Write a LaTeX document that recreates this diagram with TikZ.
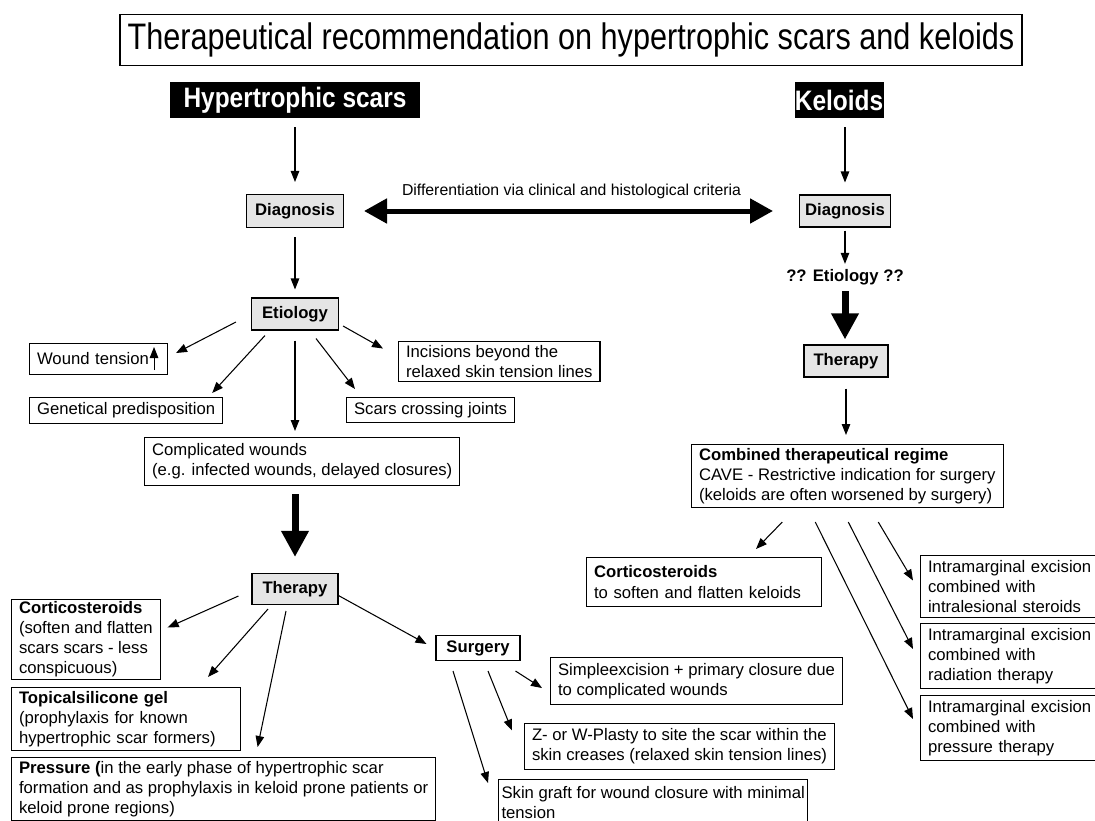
\documentclass[tikz,border=0pt]{standalone}
\usepackage{graphicx}
\usepackage{fontspec}
\setmainfont{Liberation Sans}
\usetikzlibrary{arrows.meta,calc}

\begin{document}
\begin{tikzpicture}[x=0.02cm, y=-0.02cm,
	box/.style={draw, line width=0.6pt, inner xsep=0.15cm, inner ysep=0.04cm, align=left, anchor=north west, font=\boxfont},
	grey/.style={draw, line width=0.6pt, fill=black!10, inner sep=0pt, font=\boxfont\bfseries},
	hdr/.style={fill=black, text=white, inner sep=0pt, minimum height=0.72cm, font=\fontsize{16}{18}\selectfont\bfseries},
	arr/.style={line width=0.6pt, -{Triangle[length=0.22cm,width=0.17cm]}},
	fat/.style={line width=0.14cm, -{Triangle[length=0.52cm,width=0.52cm]}},
	]
	
	\def\boxfont{\fontsize{9.5}{11.4}\selectfont}
	\useasboundingbox (0,0) rectangle (1095,821);
	
	% Titel und Spalten
	\node[draw, line width=0.8pt, minimum width=18.04cm, minimum height=1.02cm, font=\fontsize{21}{25}\selectfont] (title) at (571,40) {\scalebox{0.83}[1]{Therapeutical recommendation on hypertrophic scars and keloids}};
	\node[hdr, minimum width=5cm] (hs) at (295,100) {\scalebox{0.87}[1]{Hypertrophic scars}};
	\node[hdr, minimum width=1.78cm] (kel) at (839,100) {\scalebox{0.87}[1]{Keloids}};
	
	% linke Seite
	\node[grey, minimum width=1.94cm, minimum height=0.66cm] (diagL) at (295,211) {Diagnosis};
	\node[grey, minimum width=1.74cm, minimum height=0.64cm] (etioL) at (295,314) {Etiology};
	\node[box, text width=2.46cm, minimum height=0.62cm] (wound) at (29,343) {Wound tension};
	\node[box, minimum height=0.52cm] (genet) at (29,397) {Genetical predisposition};
	\node[box, minimum height=0.8cm] (incis) at (398,341) {Incisions beyond the\\relaxed skin tension lines};
	\node[box, minimum height=0.5cm] (joints) at (346,397) {Scars crossing joints};
	\node[box, minimum height=0.96cm] (compl) at (144,437) {Complicated wounds\\(e.g. infected wounds, delayed closures)};
	
	\node[grey, minimum width=1.72cm, minimum height=0.62cm] (therL) at (295,589) {Therapy};
	\node[box, minimum height=1.6cm] (cortL) at (11,599) {\textbf{Corticosteroids}\\(soften and flatten\\scars scars - less\\conspicuous)};
	\node[box, text width=4.28cm, minimum height=1.26cm] (topic) at (11,687) {\textbf{Topicalsilicone gel}\\(prophylaxis for known\\hypertrophic scar formers)};
	\node[box, minimum height=1.26cm] (press) at (11,757) {\textbf{Pressure (}in the early phase of hypertrophic scar\\formation and as prophylaxis in keloid prone patients or\\keloid prone regions)};
	\node[grey, fill=white, minimum width=1.68cm, minimum height=0.5cm] (surg) at (478,648) {Surgery};
	\node[box, minimum height=0.94cm] (simple) at (550,657) {Simpleexcision + primary closure due\\to complicated wounds};
	\node[box, minimum height=0.92cm] (zplas) at (524,723) {Z- or W-Plasty to site the scar within the\\skin creases (relaxed skin tension lines)};
	\node[box, inner xsep=0.06cm, inner ysep=0.14cm, text depth=0.4cm] (graft) at (498,779) {Skin graft for wound closure with minimal\\tension};
	
	% rechte Seite
	\node[grey, minimum width=1.82cm, minimum height=0.64cm] (diagR) at (845,211) {Diagnosis};
	\node[inner sep=0pt, font=\boxfont\bfseries] (etioR) at (845,277) {?? Etiology ??};
	\node[grey, minimum width=1.68cm, minimum height=0.64cm] (therR) at (846,361) {Therapy};
	\node[box, minimum height=1.26cm] (comb) at (691,444) {\textbf{Combined therapeutical regime}\\CAVE - Restrictive indication for surgery\\(keloids are often worsened by surgery)};
	\node[box, text width=4.4cm, minimum height=0.98cm] (cortR) at (586,557) {\textbf{Corticosteroids}\\to soften and flatten keloids};
	\node[box, text width=3.6cm, minimum height=1.24cm] (intra1) at (920,555) {Intramarginal excision\\combined with\\intralesional steroids};
	\node[box, text width=3.6cm, minimum height=1.3cm] (intra2) at (920,623) {Intramarginal excision\\combined with\\radiation therapy};
	\node[box, text width=3.6cm, minimum height=1.3cm] (intra3) at (920,695) {Intramarginal excision\\combined with\\pressure therapy};
	
	% Pfeile links
	\draw[arr, shorten <=0.18cm, shorten >=0.24cm] (hs.south) -- (diagL.north);
	\draw[arr, shorten <=0.18cm, shorten >=0.16cm] (diagL.south) -- (etioL.north);
	\draw[arr] ($(etioL.west)+(-15,8)$) -- ($(wound.east)+(8,-6)$);
	\draw[arr] ($(wound.south east)+(-14,-5)$) -- ($(wound.north east)+(-14,4)$); %Pfeil im Kasten
	\draw[arr] ($(etioL.south)+(-30,5)$) -- ($(genet.north east)+(-11,-4)$);
	\draw[arr] ($(etioL.east)+(4,12)$) -- ($(incis.west)+(-15,-13)$);
	\draw[arr] ($(etioL.south)+(21,8)$) -- ($(joints.north west)+(9,-8)$);
	\draw[arr, shorten <=0.2cm, shorten >=0.12cm] (etioL.south) -- (etioL.south |- compl.north);
	\draw[fat, shorten <=0.16cm, shorten >=0.32cm] (therL.north |- compl.south) -- (therL.north);
	
	\draw[arr] ($(therL.west)+(-13,7)$) -- ($(cortL.east)+(7,-12)$);
	\draw[arr] ($(therL.south)+(-27,4)$) -- ($(topic.north east)+(-33,-10)$);
	\draw[arr] ($(therL.south)+(-9,6)$) -- ($(press.north)+(34,-10)$);
	\draw[arr] ($(therL.east)+(-1,6)$) -- ($(surg.west)+(-9,-4)$);
	\draw[arr] ($(surg.south east)+(-5,10)$) -- ($(simple.west)+(-8,7)$);
	\draw[arr] ($(surg.south)+(10,10)$) -- ($(zplas.west)+(-12,-16)$);
	\draw[arr] ($(surg.south)+(-25,10)$) -- ($(graft.north west)+(-10,4)$);
	
	% Pfeile rechts
	\draw[arr, shorten <=0.18cm, shorten >=0.24cm] (diagR.north |- kel.south) -- (diagR.north);
	\draw[arr, shorten <=0.06cm, shorten >=0.1cm] (diagR.south) -- (etioR.north);
	\draw[fat, shorten <=0.12cm, shorten >=0.1cm] (etioR.south) -- (etioR.south |- therR.north);
	\draw[arr, shorten <=0.22cm, shorten >=0.18cm] (therR.south) -- (therR.south |- comb.north);
	\draw[arr] ($(comb.south)+(-65,14)$) -- ($(cortR.north east)+(-66,-8)$);
	\draw[arr] ($(comb.south)+(31,14)$) -- ($(intra1.west)+(-7,-6)$);
	\draw[arr] ($(comb.south)+(1,14)$) -- ($(intra2.west)+(-7,-7)$);
	\draw[arr] ($(comb.south)+(-32,14)$) -- ($(intra3.west)+(-7,-9)$);
	
	% Doppelpfeil
	\draw[line width=0.1cm, {Triangle[length=0.46cm,width=0.48cm]}-{Triangle[length=0.46cm,width=0.48cm]}, shorten <=0.4cm, shorten >=0.52cm] (diagL.east) -- (diagR.west) node[midway, above=0.08cm, font=\fontsize{9}{11}\selectfont] (diff) {Differentiation via clinical and histological criteria};
	
\end{tikzpicture}
\end{document}
